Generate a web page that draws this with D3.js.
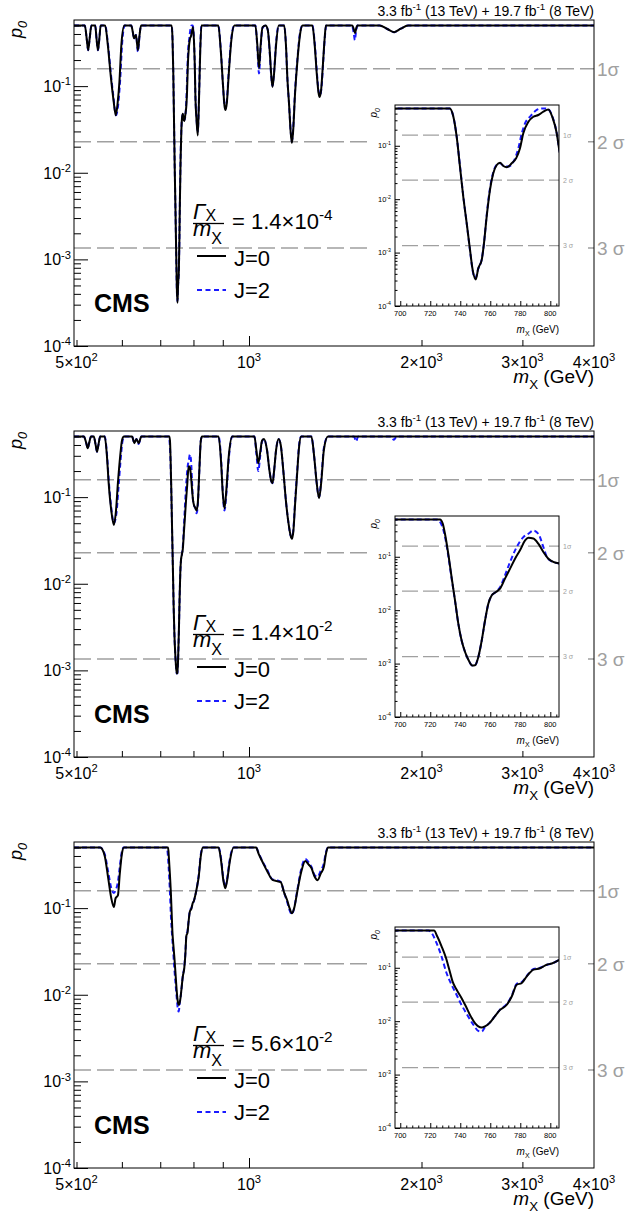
<!DOCTYPE html>
<html>
<head>
<meta charset="utf-8">
<script src="https://cdn.jsdelivr.net/npm/d3@7"></script>
<style>
  body { margin: 0; background: #fff; }
  svg { display: block; font-family: "Liberation Sans", Arial, Helvetica, sans-serif; }
</style>
</head>
<body>
<svg id="chart" width="641" height="1220"></svg>
<script>
// ---- data: [mass (GeV), local p-value] ----
const widthMantissa = ["1.4", "1.4", "5.6"];
const widthExponent = ["-4", "-2", "-2"];

const j0_w1 = [
  [495,0.5],[517,0.5],[521,0.35],[524,0.26],[527,0.35],[531,0.5],
  [539,0.5],[542,0.35],[545,0.26],[548,0.35],[551,0.5],
  [561,0.5],[567,0.3],[574,0.128],[580,0.07],[585.5,0.046],[590,0.065],[594,0.11],[599,0.31],[606,0.5],
  [623,0.5],[627,0.42],[630,0.356],[635,0.39],[640,0.26],[644,0.38],[648,0.5],
  [733,0.5],[735.4,0.35],[737.6,0.148],[739.8,0.0406],[742,0.0111],[744.3,0.00353],[746.5,0.00112],[748.3,0.00047],
  [750.3,0.000315],[752,0.000507],[754.3,0.00073],[755.8,0.00149],[757.6,0.0047],[759.8,0.0149],[762,0.0305],
  [764.3,0.0436],[766.5,0.048],[768.7,0.0418],[771,0.0395],[774.3,0.047],[777.2,0.058],[779.8,0.09],[782,0.171],
  [785.4,0.282],[788.7,0.35],[792,0.377],[795.4,0.435],[798.7,0.48],[801.6,0.33],[804.3,0.171],[806,0.083],
  [810,0.04],[814,0.027],[818,0.07],[822,0.25],[826,0.5],
  [884,0.5],[893,0.25],[901,0.1],[906,0.06],[910,0.053],[915,0.065],[922,0.14],[932,0.35],[943,0.5],
  [1026,0.5],[1034,0.3],[1041,0.162],[1048,0.3],[1056,0.48],[1069,0.5],
  [1078,0.45],[1087,0.25],[1093,0.14],[1099,0.098],[1106,0.14],[1115,0.3],[1127,0.5],
  [1152,0.5],[1160,0.3],[1167,0.12],[1175,0.06],[1182,0.03],[1188,0.022],[1194,0.03],[1203,0.08],[1215,0.2],[1228,0.4],[1240,0.5],
  [1290,0.5],[1302,0.3],[1314,0.13],[1322,0.085],[1328,0.075],[1336,0.09],[1346,0.18],[1355,0.35],[1362,0.5],
  [1515,0.5],[1526,0.44],[1532,0.41],[1538,0.46],[1546,0.5],
  [1690,0.5],[1740,0.46],[1792,0.42],[1840,0.46],[1895,0.5],[4000,0.5]
];
const j2_w1 = [
  [495,0.5],[517,0.5],[521,0.35],[524,0.26],[527,0.35],[531,0.5],
  [539,0.5],[542,0.35],[545,0.26],[548,0.35],[551,0.5],
  [561,0.5],[567,0.32],[574,0.14],[580,0.075],[586,0.046],[591,0.06],[596,0.12],[601,0.33],[607,0.5],
  [623,0.5],[627,0.42],[630,0.35],[635,0.39],[640,0.25],[644,0.38],[648,0.5],
  [733,0.5],[735.4,0.35],[737.6,0.15],[739.8,0.042],[742,0.0115],[744.3,0.0035],[746.5,0.0011],[748.3,0.00045],
  [750,0.00033],[752,0.0005],[754.3,0.00075],[755.8,0.0015],[757.6,0.005],[759.8,0.016],[762,0.032],
  [764.3,0.044],[766.5,0.047],[769,0.042],[772,0.041],[775.4,0.05],[778.7,0.09],[781,0.171],[783.2,0.264],
  [786.5,0.35],[791,0.47],[794.3,0.5],[797.6,0.5],[801,0.377],[804.3,0.171],[806,0.085],
  [810,0.042],[814,0.03],[818,0.075],[822,0.27],[826,0.5],
  [884,0.5],[893,0.26],[901,0.1],[906,0.06],[910,0.055],[915,0.07],[922,0.15],[932,0.37],[943,0.5],
  [1026,0.5],[1034,0.28],[1041,0.14],[1048,0.28],[1056,0.47],[1069,0.5],
  [1078,0.45],[1087,0.24],[1093,0.135],[1099,0.1],[1106,0.145],[1115,0.32],[1127,0.5],
  [1152,0.5],[1160,0.3],[1167,0.12],[1175,0.06],[1182,0.031],[1188,0.023],[1194,0.032],[1203,0.085],[1215,0.21],[1228,0.42],[1240,0.5],
  [1290,0.5],[1302,0.32],[1314,0.14],[1322,0.09],[1330,0.078],[1338,0.095],[1348,0.2],[1357,0.38],[1364,0.5],
  [1512,0.5],[1524,0.4],[1530,0.34],[1537,0.42],[1546,0.5],
  [1690,0.5],[1740,0.46],[1792,0.42],[1840,0.46],[1895,0.5],[4000,0.5]
];

const j0_w2 = [
  [495,0.5],[515,0.5],[520,0.42],[523,0.366],[526,0.42],[530,0.5],
  [536,0.5],[540,0.4],[543,0.335],[546,0.4],[550,0.5],
  [560,0.5],[565,0.3],[569,0.145],[575,0.07],[581,0.0477],[586,0.07],[590.5,0.145],[596,0.3],[600.5,0.457],[605,0.5],
  [625,0.5],[631,0.42],[636,0.47],[641.6,0.42],[649,0.5],
  [726.5,0.5],[728.3,0.42],[729.8,0.27],[732,0.114],[734.2,0.0418],[736.5,0.0152],[738.7,0.0056],[740.9,0.0027],
  [743.2,0.00165],[745.4,0.00118],[748,0.00092],[749.8,0.00093],[752,0.00132],[754.3,0.0027],[756.5,0.0064],
  [758.7,0.0132],[761,0.019],[763.8,0.0219],[766.5,0.0253],[769.8,0.039],[773.2,0.06],[776.5,0.092],[779.8,0.132],
  [783.2,0.202],[785.4,0.227],[788.7,0.22],[792,0.176],[795.4,0.123],[798.7,0.092],[802,0.08],[806,0.075],
  [810,0.07],[814,0.085],[819,0.2],[824,0.45],[828,0.5],
  [885,0.5],[894,0.25],[900,0.11],[906,0.074],[912,0.11],[922,0.3],[935,0.5],
  [1022,0.5],[1030,0.35],[1038,0.245],[1046,0.33],[1054,0.45],[1062,0.47],[1075,0.35],[1086,0.2],[1093,0.155],
  [1099,0.145],[1106,0.2],[1115,0.35],[1126,0.47],[1136,0.4],[1148,0.2],[1160,0.09],[1172,0.05],[1182,0.036],
  [1188,0.033],[1195,0.04],[1203,0.08],[1213,0.18],[1223,0.38],[1233,0.5],
  [1285,0.5],[1299,0.3],[1312,0.15],[1325,0.097],[1337,0.15],[1351,0.35],[1373,0.5],[4000,0.5]
];
const j2_w2 = [
  [495,0.5],[515,0.5],[520,0.42],[523,0.366],[526,0.42],[530,0.5],
  [536,0.5],[540,0.4],[543,0.335],[546,0.4],[550,0.5],
  [560,0.5],[565,0.32],[569,0.16],[575,0.075],[581,0.05],[587,0.065],[592,0.13],[597,0.27],[601.5,0.44],[606,0.5],
  [625,0.5],[631,0.42],[636,0.47],[641.6,0.41],[649,0.5],
  [724,0.5],[726.5,0.45],[728.3,0.35],[729.8,0.24],[732,0.105],[734.2,0.04],[736.5,0.015],[738.7,0.0056],[740.9,0.0027],
  [743.2,0.00165],[745.4,0.00118],[748,0.00092],[749.8,0.00093],[752,0.00132],[754.3,0.0027],[756.5,0.0064],
  [758.7,0.0132],[761,0.019],[763.8,0.022],[766.5,0.027],[769.8,0.045],[773.2,0.08],[777.6,0.152],[782,0.233],
  [785.4,0.27],[788.8,0.31],[792,0.27],[795.4,0.152],[797.6,0.1],[800,0.085],[803,0.078],[806,0.075],
  [810,0.065],[814,0.08],[819,0.2],[824,0.45],[828,0.5],
  [885,0.5],[894,0.27],[900,0.115],[906,0.07],[912,0.1],[922,0.28],[935,0.5],
  [1022,0.5],[1030,0.32],[1038,0.2],[1046,0.3],[1054,0.44],[1062,0.47],[1075,0.35],[1086,0.2],[1093,0.155],
  [1099,0.145],[1106,0.2],[1115,0.35],[1126,0.47],[1136,0.4],[1148,0.2],[1160,0.09],[1172,0.05],[1182,0.036],
  [1188,0.034],[1195,0.042],[1203,0.085],[1213,0.19],[1223,0.4],[1233,0.5],
  [1285,0.5],[1299,0.3],[1312,0.15],[1325,0.1],[1337,0.16],[1351,0.37],[1373,0.5],
  [1525,0.5],[1538,0.44],[1550,0.5],[1770,0.5],[1790,0.46],[1810,0.5],[4000,0.5]
];

const j0_w3 = [
  [495,0.5],[550,0.5],[560,0.4],[568,0.22],[575,0.13],[581,0.103],[585,0.13],[590.5,0.14],[595,0.25],[600,0.42],[605,0.5],
  [722.5,0.5],[724.7,0.385],[727.6,0.25],[730.5,0.152],[732.7,0.092],[734.9,0.055],[737.6,0.0387],[740.9,0.027],
  [743.8,0.0188],[746.5,0.0131],[749.8,0.0092],[752,0.008],[754.3,0.0076],[756.5,0.008],[759.4,0.0092],[762.1,0.0114],
  [766.5,0.0163],[771,0.0203],[774.3,0.029],[777.6,0.048],[781,0.052],[784.3,0.069],[788.8,0.092],[793.2,0.098],
  [797.6,0.114],[801,0.12],[806,0.141],
  [812,0.18],[817,0.23],[824,0.4],[831,0.5],
  [885,0.5],[894,0.35],[902,0.21],[909,0.17],[916,0.21],[926,0.35],[940,0.5],
  [1029,0.5],[1040,0.42],[1055,0.345],[1075,0.27],[1099,0.212],[1118,0.205],[1136,0.2],[1152,0.15],[1165,0.125],
  [1177,0.1],[1188,0.0875],[1199,0.1],[1213,0.15],[1233,0.26],[1254,0.35],[1270,0.32],[1285,0.29],[1302,0.23],
  [1317,0.21],[1334,0.25],[1351,0.3],[1362,0.42],[1373,0.5],[4000,0.5]
];
const j2_w3 = [
  [495,0.5],[550,0.5],[560,0.42],[568,0.26],[575,0.17],[581,0.15],[585,0.16],[590.5,0.2],[595,0.3],[600,0.45],[604,0.5],
  [718.7,0.5],[720.9,0.45],[724,0.3],[727.6,0.16],[730.9,0.079],[734.2,0.048],[737.6,0.031],[740.9,0.02],
  [744.2,0.0138],[748.7,0.0086],[752,0.0066],[754.3,0.0064],[756.5,0.0078],[759.4,0.0092],[762.1,0.0114],
  [766.5,0.0165],[771,0.021],[774.3,0.03],[777.6,0.05],[781,0.054],[784.3,0.07],[788.8,0.095],[793.2,0.1],
  [797.6,0.113],[801,0.12],[806,0.141],
  [812,0.18],[817,0.24],[824,0.42],[831,0.5],
  [885,0.5],[894,0.37],[902,0.22],[909,0.175],[916,0.22],[926,0.37],[940,0.5],
  [1029,0.5],[1040,0.43],[1055,0.35],[1075,0.28],[1099,0.215],[1118,0.21],[1136,0.2],[1152,0.15],[1165,0.12],
  [1177,0.095],[1188,0.085],[1199,0.1],[1213,0.155],[1233,0.28],[1254,0.37],[1270,0.34],[1285,0.3],[1302,0.24],
  [1317,0.23],[1334,0.27],[1351,0.33],[1362,0.44],[1373,0.5],[4000,0.5]
];

const curvesJ0 = [j0_w1, j0_w2, j0_w3];
const curvesJ2 = [j2_w1, j2_w2, j2_w3];

// significance thresholds (one-sided local p-values) and their labels
const sigmaP = [0.1587, 0.02275, 0.00135];
const sigmaLabel = ["1σ", "2 σ", "3 σ"];

// axis ticks
const xTickVals = [500, 1000, 2000, 3000, 4000];
const xTickMant = ["5×10", "10", "2×10", "3×10", "4×10"];
const xTickExp = ["2", "3", "3", "3", "3"];
const xMajor = [1000, 2000, 3000];
const xMinor = [500, 600, 700, 800, 900];
const yMajor = [1e-4, 1e-3, 1e-2, 1e-1];
const yMajorExp = ["-4", "-3", "-2", "-1"];
const insetXTicks = [700, 720, 740, 760, 780, 800];

// ---- layout ----
const panelStep = 411;
const frame = { l: 74, r: 594, t: 20, b: 346 };
const inset = { l: 395, r: 559, t: 105, b: 306 };
const grey = "#a0a0a0";
const blue = "#1a1aff";

const x = d3.scaleLog().domain([495, 4000]).range([frame.l, frame.r]);
const y = d3.scaleLog().domain([1e-4, 0.58]).range([frame.b, frame.t]);
const xi = d3.scaleLinear().domain([696.5, 805.8]).range([inset.l, inset.r]);
const yi = d3.scaleLog().domain([1e-4, 0.58]).range([inset.b, inset.t]);

const yMinor = [];
yMajor.forEach(d => { for (let k = 2; k <= 9; k++) if (d * k <= 0.58) yMinor.push(d * k); });
const insetXMinor = d3.range(700, 806, 4).filter(v => v % 20 !== 0);

const svg = d3.select("#chart");

// text with sub/superscripts; sub/sup may carry their own shift and size
function rich(parent, px, py, size, anchor, parts) {
  const t = parent.append("text")
    .attr("x", px).attr("y", py)
    .attr("font-size", size)
    .attr("text-anchor", anchor);
  let shift = 0;
  parts.forEach(p => {
    let want = 0;
    if (p.sup) want = p.shift !== undefined ? p.shift : -0.42 * size;
    if (p.sub) want = p.shift !== undefined ? p.shift : 0.3 * size;
    const s = t.append("tspan").attr("dy", want - shift).text(p.t);
    if (p.sup || p.sub) s.attr("font-size", p.size || size * 0.7);
    if (p.it) s.attr("font-style", "italic");
    shift = want;
  });
  return t;
}

function ticks(g, axis, pos) {
  g.append("g").attr("transform", pos).call(axis)
    .call(a => a.select(".domain").remove())
    .call(a => a.selectAll("line").attr("stroke", "#000"));
}

function drawPanel(k) {
  const g = svg.append("g").attr("transform", `translate(0,${k * panelStep})`);

  g.append("clipPath").attr("id", `clipMain${k}`)
    .append("rect").attr("x", frame.l).attr("y", frame.t)
    .attr("width", frame.r - frame.l).attr("height", frame.b - frame.t);
  g.append("clipPath").attr("id", `clipInset${k}`)
    .append("rect").attr("x", inset.l).attr("y", inset.t)
    .attr("width", inset.r - inset.l).attr("height", inset.b - inset.t);

  // header
  rich(g, frame.r, 16, 14, "end", [
    { t: "3.3 fb" }, { t: "-1", sup: true }, { t: " (13 TeV) + 19.7 fb" }, { t: "-1", sup: true }, { t: " (8 TeV)" }
  ]);

  // significance lines
  sigmaP.forEach((p, i) => {
    g.append("line")
      .attr("x1", frame.l).attr("x2", frame.r)
      .attr("y1", y(p)).attr("y2", y(p))
      .attr("stroke", grey).attr("stroke-width", 1.5)
      .attr("stroke-dasharray", "17,6");
    g.append("text").attr("x", 597).attr("y", y(p) + 7)
      .attr("font-size", 19).attr("fill", grey).text(sigmaLabel[i]);
  });

  // curves
  const line = d3.line().x(d => x(d[0])).y(d => y(d[1])).curve(d3.curveMonotoneX);
  const curves = g.append("g").attr("clip-path", `url(#clipMain${k})`);
  curves.append("path").datum(curvesJ2[k]).attr("d", line)
    .attr("fill", "none").attr("stroke", blue).attr("stroke-width", 2).attr("stroke-dasharray", "5,3");
  curves.append("path").datum(curvesJ0[k]).attr("d", line)
    .attr("fill", "none").attr("stroke", "#000").attr("stroke-width", 2);

  // frame and ticks
  g.append("rect").attr("x", frame.l).attr("y", frame.t)
    .attr("width", frame.r - frame.l).attr("height", frame.b - frame.t)
    .attr("fill", "none").attr("stroke", "#000").attr("stroke-width", 1);
  ticks(g, d3.axisBottom(x).tickValues(xMajor).tickSize(-10).tickFormat(""), `translate(0,${frame.b})`);
  ticks(g, d3.axisBottom(x).tickValues(xMinor).tickSize(-6).tickFormat(""), `translate(0,${frame.b})`);
  ticks(g, d3.axisLeft(y).tickValues(yMajor).tickSize(-14).tickFormat(""), `translate(${frame.l},0)`);
  ticks(g, d3.axisLeft(y).tickValues(yMinor).tickSize(-7).tickFormat(""), `translate(${frame.l},0)`);

  // tick labels
  yMajor.forEach((v, i) => {
    rich(g, 71, y(v) + 6, 16, "end", [{ t: "10" }, { t: yMajorExp[i], sup: true }]);
  });
  xTickVals.forEach((v, i) => {
    rich(g, x(v), 368, 16, "middle", [{ t: xTickMant[i] }, { t: xTickExp[i], sup: true }]);
  });

  // axis titles
  rich(g, frame.r, 383, 19, "end", [{ t: "m", it: true }, { t: "X", sub: true }, { t: " (GeV)" }]);
  rich(g.append("g").attr("transform", `translate(21.5,${frame.t + 1}) rotate(-90)`), 0, 0, 18, "end",
    [{ t: "p", it: true }, { t: "0", sub: true, it: true }]);

  // legend: width fraction
  rich(g, 193, 219, 22, "start", [{ t: "Γ", it: true }, { t: "X", sub: true, shift: 1.5, size: 16 }]);
  g.append("line").attr("x1", 193).attr("x2", 224).attr("y1", 223.5).attr("y2", 223.5)
    .attr("stroke", "#000").attr("stroke-width", 1.3);
  rich(g, 193, 236, 22, "start", [{ t: "m", it: true }, { t: "X", sub: true, shift: 8, size: 16 }]);
  rich(g, 232, 229, 22, "start", [{ t: "= " + widthMantissa[k] + "×10" }, { t: widthExponent[k], sup: true }]);

  g.append("line").attr("x1", 197).attr("x2", 226).attr("y1", 256).attr("y2", 256)
    .attr("stroke", "#000").attr("stroke-width", 2);
  g.append("text").attr("x", 234).attr("y", 266).attr("font-size", 22).text("J=0");
  g.append("line").attr("x1", 197).attr("x2", 226).attr("y1", 290).attr("y2", 290)
    .attr("stroke", blue).attr("stroke-width", 2).attr("stroke-dasharray", "5,3.5");
  g.append("text").attr("x", 234).attr("y", 298).attr("font-size", 22).text("J=2");

  g.append("text").attr("x", 94).attr("y", 312).attr("font-size", 25)
    .attr("font-weight", "bold").text("CMS");

  // ---- inset ----
  g.append("rect").attr("x", 372).attr("y", 95).attr("width", 216).attr("height", 245).attr("fill", "#fff");

  sigmaP.forEach((p, i) => {
    g.append("line")
      .attr("x1", inset.l + 7).attr("x2", inset.r)
      .attr("y1", yi(p)).attr("y2", yi(p))
      .attr("stroke", grey).attr("stroke-width", 1.2)
      .attr("stroke-dasharray", "16,5");
    g.append("text").attr("x", 563).attr("y", yi(p) + 2.5)
      .attr("font-size", 7).attr("fill", grey).text(sigmaLabel[i]);
  });

  const lineI = d3.line().x(d => xi(d[0])).y(d => yi(d[1])).curve(d3.curveMonotoneX);
  const near = d => d[0] >= 600 && d[0] <= 900;
  const ic = g.append("g").attr("clip-path", `url(#clipInset${k})`);
  ic.append("path").datum(curvesJ2[k].filter(near)).attr("d", lineI)
    .attr("fill", "none").attr("stroke", blue).attr("stroke-width", 2).attr("stroke-dasharray", "5,3");
  ic.append("path").datum(curvesJ0[k].filter(near)).attr("d", lineI)
    .attr("fill", "none").attr("stroke", "#000").attr("stroke-width", 2);

  g.append("rect").attr("x", inset.l).attr("y", inset.t)
    .attr("width", inset.r - inset.l).attr("height", inset.b - inset.t)
    .attr("fill", "none").attr("stroke", "#000").attr("stroke-width", 1);
  ticks(g, d3.axisBottom(xi).tickValues(insetXTicks).tickSize(-5).tickFormat(""), `translate(0,${inset.b})`);
  ticks(g, d3.axisBottom(xi).tickValues(insetXMinor).tickSize(-2.5).tickFormat(""), `translate(0,${inset.b})`);
  ticks(g, d3.axisLeft(yi).tickValues(yMajor).tickSize(-5).tickFormat(""), `translate(${inset.l},0)`);
  ticks(g, d3.axisLeft(yi).tickValues(yMinor).tickSize(-2.5).tickFormat(""), `translate(${inset.l},0)`);

  yMajor.forEach((v, i) => {
    rich(g, 391, yi(v) + 2.5, 7.5, "end", [{ t: "10" }, { t: yMajorExp[i], sup: true }]);
  });
  insetXTicks.forEach(v => {
    g.append("text").attr("x", xi(v)).attr("y", 316).attr("font-size", 7.5)
      .attr("text-anchor", "middle").text(v);
  });
  rich(g, inset.r, 333, 10, "end", [{ t: "m", it: true }, { t: "X", sub: true }, { t: " (GeV)" }]);
  rich(g.append("g").attr("transform", `translate(377,${inset.t + 3}) rotate(-90)`), 0, 0, 10, "end",
    [{ t: "p", it: true }, { t: "0", sub: true, it: true }]);
}

[0, 1, 2].forEach(drawPanel);
</script>
</body>
</html>
